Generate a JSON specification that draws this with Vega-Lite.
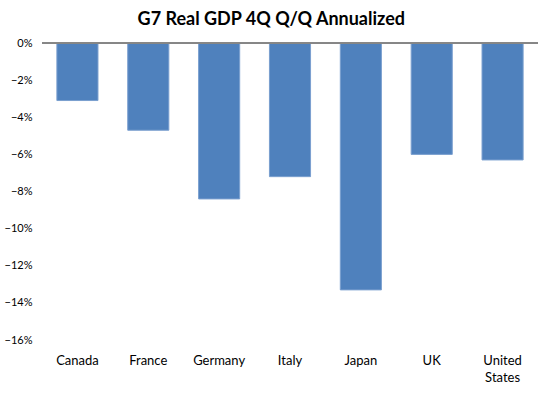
{
  "$schema": "https://vega.github.io/schema/vega-lite/v6.json",
  "width": 496,
  "height": 297,
  "autosize": {"type": "none"},
  "padding": {"left": 42, "top": 43, "right": 10, "bottom": 58},
  "background": "white",
  "title": {
    "text": "G7 Real GDP 4Q Q/Q Annualized",
    "font": "Lato",
    "fontSize": 18,
    "fontWeight": "bold",
    "color": "#000000",
    "anchor": "middle",
    "frame": "bounds",
    "offset": 8
  },
  "data": {
    "values": [
      {"country": "Canada", "gdp": -0.031},
      {"country": "France", "gdp": -0.047},
      {"country": "Germany", "gdp": -0.084},
      {"country": "Italy", "gdp": -0.072},
      {"country": "Japan", "gdp": -0.133},
      {"country": "UK", "gdp": -0.060},
      {"country": "United States", "gdp": -0.063}
    ]
  },
  "encoding": {
    "y": {
      "type": "quantitative",
      "scale": {"domain": [-0.16, 0], "nice": false},
      "axis": {
        "title": null,
        "values": [0, -0.02, -0.04, -0.06, -0.08, -0.1, -0.12, -0.14, -0.16],
        "format": ".0%",
        "labelOverlap": false,
        "grid": false,
        "domain": false,
        "ticks": false,
        "labelFont": "Lato",
        "labelFontSize": 11,
        "labelColor": "#000000",
        "labelPadding": 10
      }
    }
  },
  "layer": [
    {
      "mark": {"type": "bar", "color": "#4F81BD", "stroke": "#7A9FCF", "strokeWidth": 1},
      "encoding": {
        "x": {
          "field": "country",
          "type": "nominal",
          "sort": null,
          "scale": {"paddingInner": 0.42, "paddingOuter": 0.21},
          "axis": {
            "title": null,
            "orient": "bottom",
            "domain": false,
            "ticks": false,
            "labelAngle": 0,
            "labelFont": "Lato",
            "labelFontSize": 13,
            "labelColor": "#000000",
            "labelPadding": 14,
            "labelLineHeight": 17,
            "labelExpr": "datum.label == 'United States' ? ['United', 'States'] : datum.label"
          }
        },
        "y": {"field": "gdp"}
      }
    },
    {
      "mark": {"type": "rule", "color": "#868686", "strokeWidth": 1},
      "encoding": {"y": {"datum": 0}}
    }
  ],
  "config": {
    "view": {"stroke": null}
  }
}
